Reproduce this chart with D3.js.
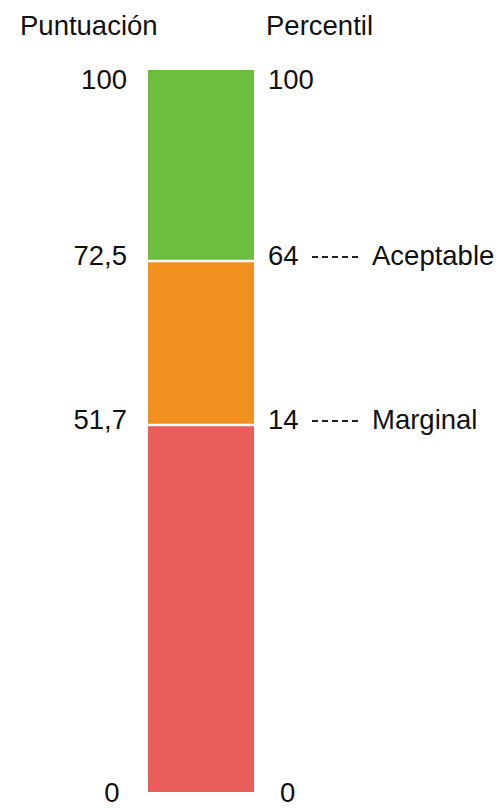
<!DOCTYPE html>
<html>
<head>
<meta charset="utf-8">
<script src="https://cdn.jsdelivr.net/npm/d3@7"></script>
<style>
  html, body { margin: 0; padding: 0; background: #fff; }
  svg { display: block; }
  text { font-family: "Liberation Sans", Arial, Helvetica, sans-serif; fill: #111; }
</style>
</head>
<body>
<svg id="chart" width="500" height="808"></svg>
<script>
// Score thresholds (bottom to top) and matching percentile ranks
const scores = [0, 51.7, 72.5, 100];
const scoreLabels = ["0", "51,7", "72,5", "100"];
const percentiles = [0, 14, 64, 100];
const grades = ["", "Marginal", "Aceptable", ""];
// Bands between consecutive thresholds
const bandColors = ["#e95d5b", "#f2911f", "#6cbf3e"];

const barX = 148, barW = 106;
const fs = 27.5;

const svg = d3.select("#chart");

// Piecewise scale: each band gets its own stretch of the bar
const y = d3.scaleLinear()
  .domain(scores)
  .range([792, 425, 261, 70]);

const bands = d3.range(scores.length - 1).map(i => ({
  lo: scores[i], hi: scores[i + 1], color: bandColors[i]
}));

svg.append("g").selectAll("rect")
  .data(bands)
  .join("rect")
  .attr("x", barX)
  .attr("width", barW)
  .attr("y", d => y(d.hi))
  .attr("height", d => y(d.lo) - y(d.hi))
  .attr("fill", d => d.color);

// White separators between bands
svg.append("g").selectAll("line")
  .data(scores.slice(1, -1))
  .join("line")
  .attr("x1", barX).attr("x2", barX + barW)
  .attr("y1", d => y(d)).attr("y2", d => y(d))
  .attr("stroke", "#fff").attr("stroke-width", 2.5);

// Column headers
svg.append("text").attr("x", 20).attr("y", 35)
  .attr("font-size", fs).text("Puntuación");
svg.append("text").attr("x", 266).attr("y", 35)
  .attr("font-size", fs).text("Percentil");

const last = scores.length - 1;
// Baseline offset so the end labels sit just inside / below the bar ends
const baseDy = (i) => i === last ? 19 : (i === 0 ? 10 : 4);

// Score labels (left)
svg.append("g").selectAll("text")
  .data(scores)
  .join("text")
  .attr("x", (d, i) => i === 0 ? 112 : 127)
  .attr("y", (d, i) => y(d) + baseDy(i))
  .attr("text-anchor", (d, i) => i === 0 ? "middle" : "end")
  .attr("font-size", fs)
  .text((d, i) => scoreLabels[i]);

// Percentile labels (right)
const right = svg.append("g").selectAll("g")
  .data(percentiles.map((p, i) => ({ p, i, grade: grades[i], yy: y(scores[i]) + baseDy(i) })))
  .join("g");

right.append("text")
  .attr("x", d => d.i === 0 ? 280 : 268)
  .attr("y", d => d.yy)
  .attr("font-size", fs)
  .text(d => d.p);

// Dashed leader and grade name for the threshold rows
const graded = right.filter(d => d.grade);
graded.append("line")
  .attr("x1", 312).attr("x2", 358)
  .attr("y1", d => d.yy - 8).attr("y2", d => d.yy - 8)
  .attr("stroke", "#222").attr("stroke-width", 1.8)
  .attr("stroke-dasharray", "6,4");
graded.append("text")
  .attr("x", 372)
  .attr("y", d => d.yy)
  .attr("font-size", fs)
  .text(d => d.grade);
</script>
</body>
</html>
